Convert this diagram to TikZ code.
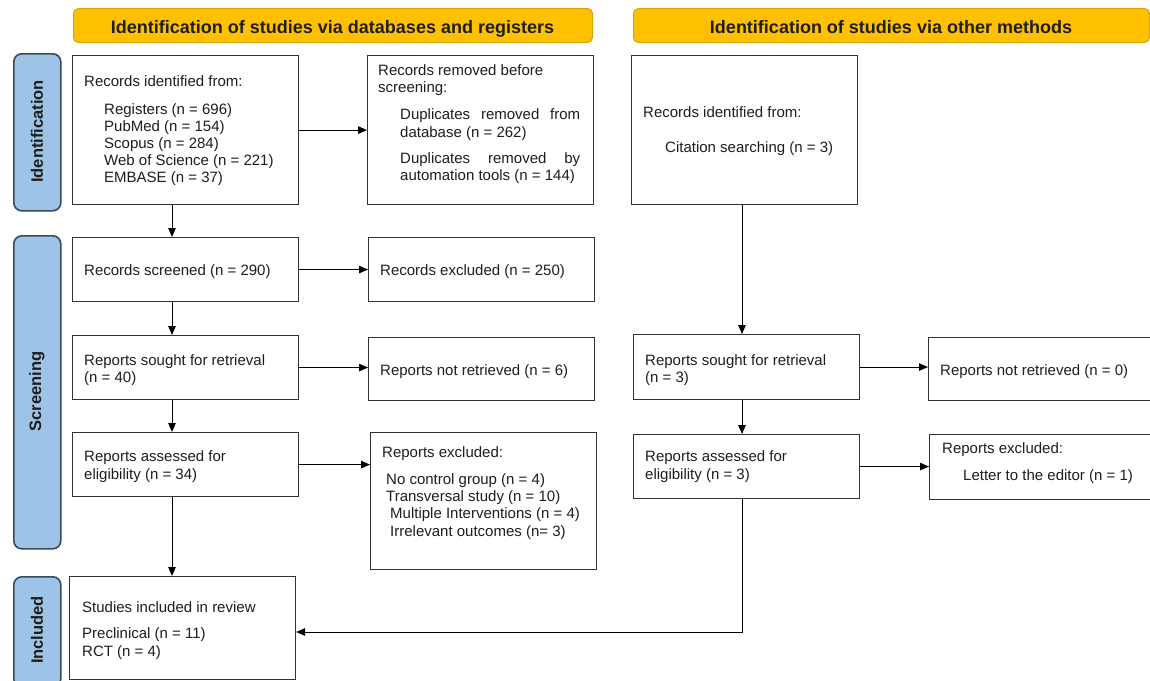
\documentclass[tikz,border=0pt]{standalone}
\usepackage{fontspec}
\setmainfont{Liberation Sans}
\usetikzlibrary{arrows.meta}
\definecolor{hdrfill}{HTML}{FFC000}
\definecolor{hdrdraw}{HTML}{D9A400}
\definecolor{sidefill}{HTML}{9DC3E6}
\definecolor{sidedraw}{HTML}{3A4A5C}
\definecolor{boxdraw}{HTML}{333333}
\definecolor{txtcol}{HTML}{1E1E1E}
\tikzset{
  boxnode/.style={draw=boxdraw, line width=1.1pt, fill=white, anchor=north west, inner sep=0pt},
  hdrnode/.style={draw=hdrdraw, line width=1pt, fill=hdrfill, rounded corners=5pt, anchor=north west, inner sep=0pt},
  sidenode/.style={draw=sidedraw, line width=1.6pt, fill=sidefill, rounded corners=8pt, anchor=north west, inner sep=0pt},
  txt/.style={anchor=base west, inner sep=0pt, text=txtcol, font=\fontsize{15}{17}\selectfont},
  hdrtxt/.style={inner sep=0pt, text=txtcol, font=\fontsize{18}{21}\selectfont\bfseries},
  sidetxt/.style={inner sep=0pt, rotate=90, text=txtcol, font=\fontsize{16.5}{19}\selectfont\bfseries},
  arr/.style={draw=black, line width=1pt, -{Triangle[length=9pt,width=7.5pt]}},
}
\newcommand\bx[6][boxnode]{\node[#1, minimum width=#4pt, minimum height=#5pt] (#2) at (#3) {#6};}
\newcommand\tl[4]{\node[txt] (#1) at (#2,#3) {#4};}
\begin{document}
\begin{tikzpicture}[x=1pt,y=-1pt]
\useasboundingbox (0,0) rectangle (1150,680);
\clip (0,0) rectangle (1150,680);
\fill[white] (0,0) rectangle (1150,680);

% headers
\bx[hdrnode]{h1}{73,8}{519}{34}{}
\bx[hdrnode]{h2}{633,8}{516}{34}{}
\node[hdrtxt, anchor=base] (h1t) at (332.5,33) {Identification of studies via databases and registers};
\node[hdrtxt, anchor=base] (h2t) at (891,33) {Identification of studies via other methods};

% side labels
\bx[sidenode]{s1}{13,53}{47}{157}{}
\bx[sidenode]{s2}{13,235}{47}{313}{}
\bx[sidenode]{s3}{13,576}{47}{110}{}
\node[sidetxt] (s1t) at (37,131.5) {Identification};
\node[sidetxt] (s2t) at (37,391.5) {Screening};
\node[sidetxt] (s3t) at (37,630) {Included};

% boxes
\bx{idbox}{72,55}{226}{149}{}
\bx{removed}{367,55}{226}{149}{}
\bx{orec}{631,55}{226}{149}{}
\bx{scr}{72,237}{226}{64}{}
\bx{excl}{368,237}{226}{64}{}
\bx{sought}{72,335}{226}{64}{}
\bx{notret}{368,337}{226}{63}{}
\bx{assessed}{72,432}{226}{64}{}
\bx{rexcl}{370,432}{226}{137}{}
\bx{studies}{69,576}{226}{103}{}
\bx{osought}{633,334}{226}{65}{}
\bx{onotret}{928,337}{240}{63}{}
\bx{oassessed}{633,434}{226}{64}{}
\bx{oexcl}{929,434}{240}{65}{}

% texts
\tl{a1}{84}{86}{Records identified from:}
\tl{a2}{104}{114}{Registers (n = 696)}
\tl{a3}{104}{131}{PubMed (n = 154)}
\tl{a4}{104}{148}{Scopus (n = 284)}
\tl{a5}{104}{165}{Web of Science (n = 221)}
\tl{a6}{104}{182}{EMBASE (n = 37)}

\tl{b1}{378}{75}{Records removed before}
\tl{b2}{378}{92}{screening:}
\tl{b3}{400}{119}{\makebox[180pt][s]{Duplicates removed from}}
\tl{b4}{400}{137}{database (n = 262)}
\tl{b5}{400}{163}{\makebox[180pt][s]{Duplicates removed by}}
\tl{b6}{400}{180}{automation tools (n = 144)}

\tl{c1}{643}{117}{Records identified from:}
\tl{c2}{665}{152}{Citation searching (n = 3)}

\tl{d1}{84}{275}{Records screened (n = 290)}
\tl{d2}{380}{275}{Records excluded (n = 250)}

\tl{e1}{84}{365}{Reports sought for retrieval}
\tl{e2}{84}{382}{(n = 40)}
\tl{e3}{380}{375}{Reports not retrieved (n = 6)}

\tl{f1}{84}{461}{Reports assessed for}
\tl{f2}{84}{479}{eligibility (n = 34)}
\tl{f3}{382}{457}{Reports excluded:}
\tl{f4}{386}{484}{No control group (n = 4)}
\tl{f5}{386}{501}{Transversal study (n = 10)}
\tl{f6}{390}{518}{Multiple Interventions (n = 4)}
\tl{f7}{390}{536}{Irrelevant outcomes (n= 3)}

\tl{g1}{82}{612}{Studies included in review}
\tl{g2}{82}{638}{Preclinical (n = 11)}
\tl{g3}{82}{656}{RCT (n = 4)}

\tl{o1}{645}{365}{Reports sought for retrieval}
\tl{o2}{645}{382}{(n = 3)}
\tl{o3}{940}{375}{Reports not retrieved (n = 0)}
\tl{o4}{645}{461}{Reports assessed for}
\tl{o5}{645}{479}{eligibility (n = 3)}
\tl{o6}{942}{453}{Reports excluded:}
\tl{o7}{963}{480}{Letter to the editor (n = 1)}

% connectors
\coordinate (colA) at (172,0);
\coordinate (colB) at (742,0);
\coordinate (jn) at (742,632);
\draw[arr] (idbox.south -| colA) -- (scr.north -| colA);
\draw[arr] (idbox.east) -- (removed.west |- idbox.east);
\draw[arr] (scr.east) -- (excl.west |- scr.east);
\draw[arr] (scr.south -| colA) -- (sought.north -| colA);
\draw[arr] (sought.east) -- (notret.west |- sought.east);
\draw[arr] (sought.south -| colA) -- (assessed.north -| colA);
\draw[arr] (assessed.east) -- (rexcl.west |- assessed.east);
\draw[arr] (assessed.south -| colA) -- (studies.north -| colA);
\draw[arr] (orec.south -| colB) -- (osought.north -| colB);
\draw[arr] (osought.east) -- (onotret.west |- osought.east);
\draw[arr] (osought.south -| colB) -- (oassessed.north -| colB);
\draw[arr] (oassessed.east) -- (oexcl.west |- oassessed.east);
\draw[arr] (oassessed.south -| jn) -- (jn) -- (studies.east |- jn);
\end{tikzpicture}
\end{document}
